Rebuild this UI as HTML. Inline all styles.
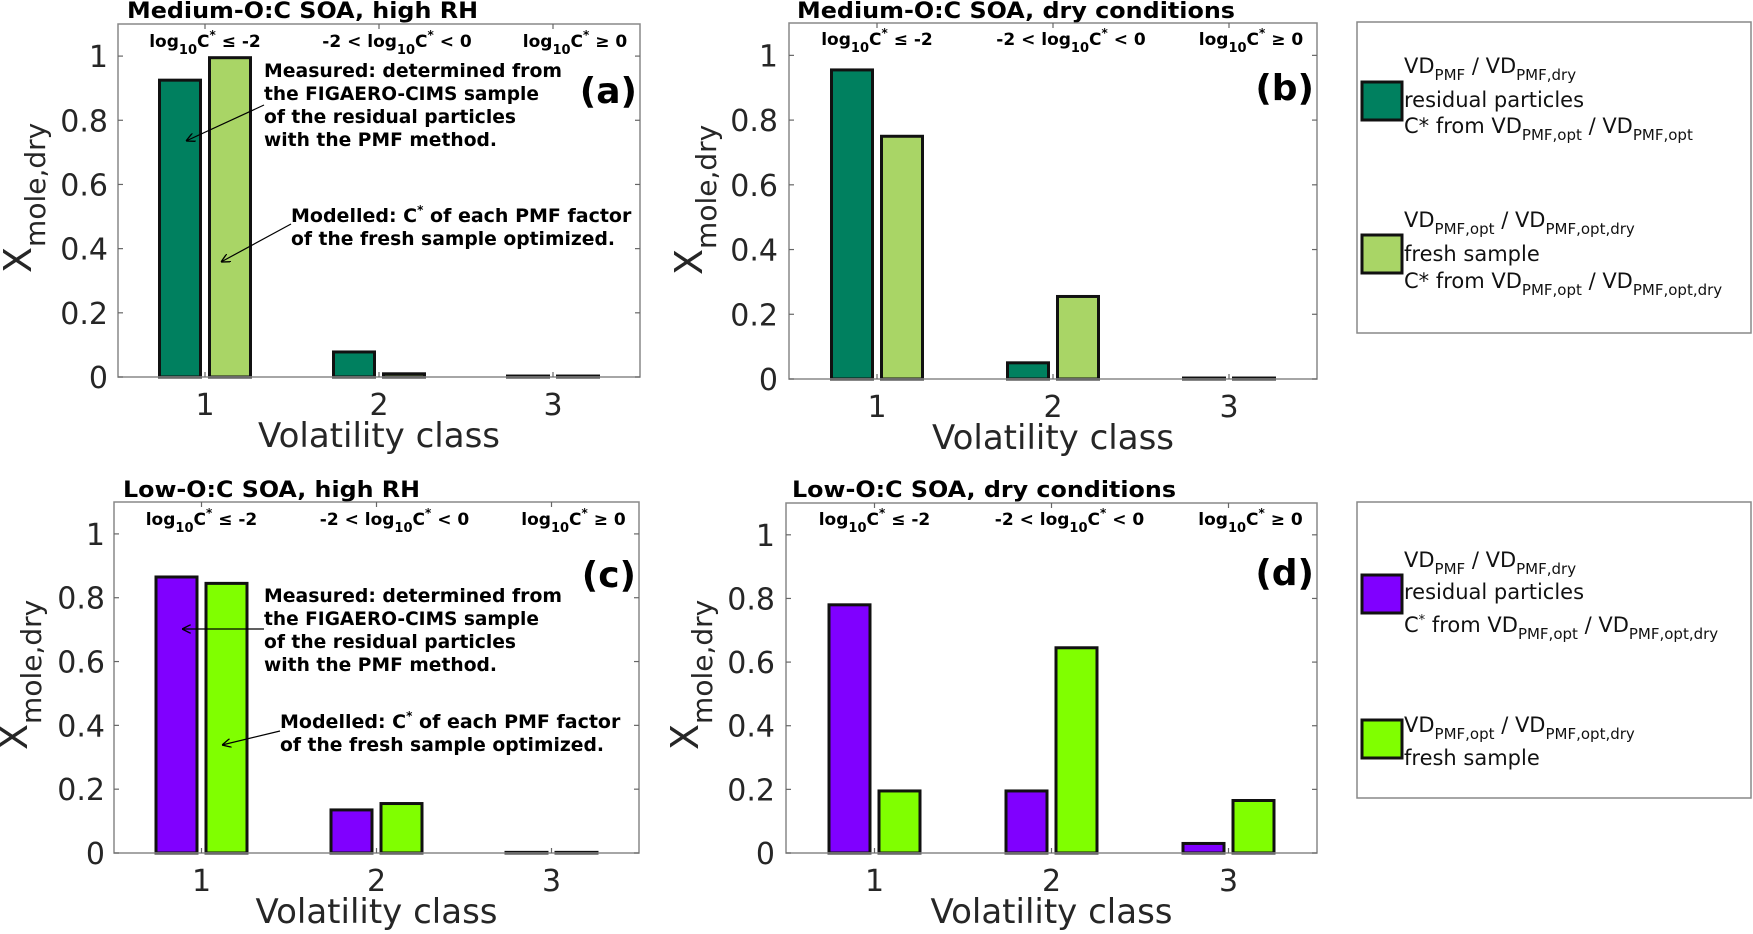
<!DOCTYPE html>
<html><head><meta charset="utf-8">
<style>
html,body{margin:0;padding:0;background:#fff;}
svg{display:block;font-family:"DejaVu Sans","Liberation Sans",sans-serif;}
</style></head>
<body>
<svg id="fig" width="1753" height="934" viewBox="0 0 1753 934" xmlns="http://www.w3.org/2000/svg">
<defs>
<marker id="arr" viewBox="0 0 10 10" refX="10" refY="5" markerWidth="9" markerHeight="9" orient="auto-start-reverse" markerUnits="userSpaceOnUse">
<path d="M0,0 L10,5 L0,10" fill="none" stroke="#000" stroke-width="1.5"/>
</marker>
</defs>
</svg>
<script>
// ---- data ----
const categories = [1, 2, 3];
const yTicks = [0, 0.2, 0.4, 0.6, 0.8, 1];
const yTickLabels = ["0", "0.2", "0.4", "0.6", "0.8", "1"];
const measuredA = [0.925, 0.078, 0.003];
const modelledA = [0.995, 0.010, 0.003];
const measuredB = [0.955, 0.050, 0.003];
const modelledB = [0.750, 0.255, 0.003];
const measuredC = [0.865, 0.135, 0.002];
const modelledC = [0.845, 0.155, 0.002];
const measuredD = [0.780, 0.195, 0.030];
const modelledD = [0.195, 0.645, 0.165];

const NS = "http://www.w3.org/2000/svg";
const svg = document.getElementById('fig');
function mk(tag, attrs, parent) {
  const e = document.createElementNS(NS, tag);
  for (const k in attrs) e.setAttribute(k, attrs[k]);
  (parent || svg).appendChild(e);
  return e;
}

const panels = [
  {id:'a', L:118, R:640, T:24, B:377, title:'Medium-O:C SOA, high RH', tx:127, tw:351, ty:18,
   m:measuredA, f:modelledA, c1:'#00805f', c2:'#a9d566', ylx:31, yly:273, tickR:108, catY:47, lab:'(a)', labY:103},
  {id:'b', L:789, R:1317, T:23, B:379, title:'Medium-O:C SOA, dry conditions', tx:797, tw:438, ty:18,
   m:measuredB, f:modelledB, c1:'#00805f', c2:'#a9d566', ylx:702, yly:275, tickR:778, catY:45, lab:'(b)', labY:100},
  {id:'c', L:114, R:639, T:502, B:853, title:'Low-O:C SOA, high RH', tx:123, tw:297, ty:497,
   m:measuredC, f:modelledC, c1:'#8000ff', c2:'#80ff00', ylx:27, yly:750, tickR:105, catY:525, lab:'(c)', labY:587},
  {id:'d', L:786, R:1317, T:503, B:853, title:'Low-O:C SOA, dry conditions', tx:792, tw:384, ty:497,
   m:measuredD, f:modelledD, c1:'#8000ff', c2:'#80ff00', ylx:698, yly:750, tickR:775, catY:525, lab:'(d)', labY:585}
];
const catShift = [0, 18, 22];

panels.forEach(p => {
  const g = mk('g', {});
  
  
  const ys = v => p.B - v / 1.1 * (p.B - p.T);
  const xs = c => p.L + (c - 0.5) / 3 * (p.R - p.L);
  const off = 25, bw = 41;

  const t = mk('text', {x:p.tx, y:p.ty, 'font-size':22, 'font-weight':'bold', textLength:p.tw, lengthAdjust:'spacingAndGlyphs', fill:'#000'}, g);
  t.textContent = p.title;
  
  

  categories.forEach((c, i) => {
    [[p.m[i], -off, p.c1, 'measured'], [p.f[i], off, p.c2, 'modelled']].forEach(([v, o, col, nm]) => {
      const y = ys(v);
      const r = mk('rect', {x:xs(c) + o - bw / 2, y:y, width:bw, height:Math.max(p.B - y, 0.5), fill:col, stroke:'#111', 'stroke-width':3}, g);
      
      
    });
  });

  const box = mk('rect', {x:p.L, y:p.T, width:p.R - p.L, height:p.B - p.T, fill:'none', stroke:'#888', 'stroke-width':1.5}, g);
  
  

  yTicks.forEach((v, i) => {
    const y = ys(v);
    mk('line', {x1:p.L, x2:p.L + 5, y1:y, y2:y, stroke:'#666', 'stroke-width':1.2}, g);
    mk('line', {x1:p.R, x2:p.R - 5, y1:y, y2:y, stroke:'#666', 'stroke-width':1.2}, g);
    const tl = mk('text', {x:p.tickR, y:y + 11, 'font-size':30, 'text-anchor':'end', fill:'#262626'}, g);
    tl.textContent = yTickLabels[i];
    
    
  });
  categories.forEach(c => {
    const x = xs(c);
    mk('line', {x1:x, x2:x, y1:p.B, y2:p.B - 5, stroke:'#666', 'stroke-width':1.2}, g);
    mk('line', {x1:x, x2:x, y1:p.T, y2:p.T + 5, stroke:'#666', 'stroke-width':1.2}, g);
    const tl = mk('text', {x:x, y:p.B + 38, 'font-size':30, 'text-anchor':'middle', fill:'#262626'}, g);
    tl.textContent = String(c);
    
    
  });
  const xl = mk('text', {x:(p.L + p.R) / 2, y:p.B + 70, 'font-size':34, 'text-anchor':'middle', fill:'#262626'}, g);
  xl.textContent = 'Volatility class';
  
  

  const yl = mk('text', {x:0, y:0, transform:'translate(' + p.ylx + ',' + p.yly + ') rotate(-90)', 'font-size':38, fill:'#262626'}, g);
  yl.innerHTML = 'X<tspan dy="14" font-size="28">mole,dry</tspan>';
  
  

  const cats = [
    'log<tspan dy="7" font-size="13">10</tspan><tspan dy="-7">C</tspan><tspan dy="-8" font-size="12">*</tspan><tspan dy="8"> ≤ -2</tspan>',
    '-2 &lt; log<tspan dy="7" font-size="13">10</tspan><tspan dy="-7">C</tspan><tspan dy="-8" font-size="12">*</tspan><tspan dy="8"> &lt; 0</tspan>',
    'log<tspan dy="7" font-size="13">10</tspan><tspan dy="-7">C</tspan><tspan dy="-8" font-size="12">*</tspan><tspan dy="8"> ≥ 0</tspan>'
  ];
  categories.forEach((c, i) => {
    const cl = mk('text', {x:xs(c) + catShift[i], y:p.catY, 'font-size':17, 'font-weight':'bold', 'text-anchor':'middle', fill:'#000'}, g);
    cl.innerHTML = cats[i];
    
    
  });

  const pl = mk('text', {x:p.R - 3, y:p.labY, 'font-size':36, 'font-weight':'bold', 'text-anchor':'end', fill:'#000'}, g);
  pl.textContent = p.lab;
  
  
});

function annot(baseY, arrow1, modY, arrow2, modX) {
  const measLines = ['Measured:  determined from', 'the FIGAERO-CIMS sample', 'of the residual particles', 'with the PMF method.'];
  const measW = [298, 275, 252, 233];
  measLines.forEach((s, i) => {
    const t = mk('text', {x:264, y:baseY + i * 23, 'font-size':19, 'font-weight':'bold', textLength:measW[i], lengthAdjust:'spacingAndGlyphs', fill:'#000'});
    t.textContent = s;
    
    
  });
  const a1 = mk('line', {x1:arrow1[0], y1:arrow1[1], x2:arrow1[2], y2:arrow1[3], stroke:'#000', 'stroke-width':1.2, 'marker-end':'url(#arr)'});
  
  
  const t1 = mk('text', {x:modX, y:modY, 'font-size':19, 'font-weight':'bold', fill:'#000'});
  t1.innerHTML = 'Modelled: C<tspan dy="-8" font-size="12">*</tspan><tspan dy="8"> of each PMF factor</tspan>';
  
  
  const t2 = mk('text', {x:modX, y:modY + 23, 'font-size':19, 'font-weight':'bold', textLength:324, lengthAdjust:'spacingAndGlyphs', fill:'#000'});
  t2.textContent = 'of the fresh sample optimized.';
  
  
  const a2 = mk('line', {x1:arrow2[0], y1:arrow2[1], x2:arrow2[2], y2:arrow2[3], stroke:'#000', 'stroke-width':1.2, 'marker-end':'url(#arr)'});
  
  
}
annot(77, [264,105,186,141], 222, [291,224,221,262], 291);
annot(602, [264,629,182,629], 728, [280,731,222,745], 280);

function legend(top, h, c1, c2, entries) {
  const g = mk('g', {});
  
  
  mk('rect', {x:1357, y:top, width:394, height:h, fill:'#fff', stroke:'#888', 'stroke-width':1.5}, g);
  entries.forEach((e, k) => {
    const sw = mk('rect', {x:1362, y:e.sy, width:40, height:38, fill:k ? c2 : c1, stroke:'#111', 'stroke-width':3}, g);
    
    
    e.lines.forEach(l => {
      const t = mk('text', {x:1404, y:l[0], 'font-size':21, fill:'#111'}, g);
      t.innerHTML = l[1];
      
      
    });
  });
}
const S = s => '<tspan dy="7" font-size="15">' + s + '</tspan><tspan dy="-7">';
legend(22, 311, '#00805f', '#a9d566', [
  {sy:82, lines:[[73, 'VD' + S('PMF') + ' / VD</tspan>' + S('PMF,dry') + '</tspan>'], [107, 'residual particles'], [133, 'C* from VD' + S('PMF,opt') + ' / VD</tspan>' + S('PMF,opt') + '</tspan>']]},
  {sy:235, lines:[[227, 'VD' + S('PMF,opt') + ' / VD</tspan>' + S('PMF,opt,dry') + '</tspan>'], [261, 'fresh sample'], [288, 'C* from VD' + S('PMF,opt') + ' / VD</tspan>' + S('PMF,opt,dry') + '</tspan>']]}
]);
legend(502, 296, '#8000ff', '#80ff00', [
  {sy:575, lines:[[567, 'VD' + S('PMF') + ' / VD</tspan>' + S('PMF,dry') + '</tspan>'], [599, 'residual particles'], [632, 'C<tspan dy="-8" font-size="13">*</tspan><tspan dy="8"> from VD</tspan>' + S('PMF,opt') + ' / VD</tspan>' + S('PMF,opt,dry') + '</tspan>']]},
  {sy:720, lines:[[732, 'VD' + S('PMF,opt') + ' / VD</tspan>' + S('PMF,opt,dry') + '</tspan>'], [765, 'fresh sample']]}
]);
</script>
</body></html>
